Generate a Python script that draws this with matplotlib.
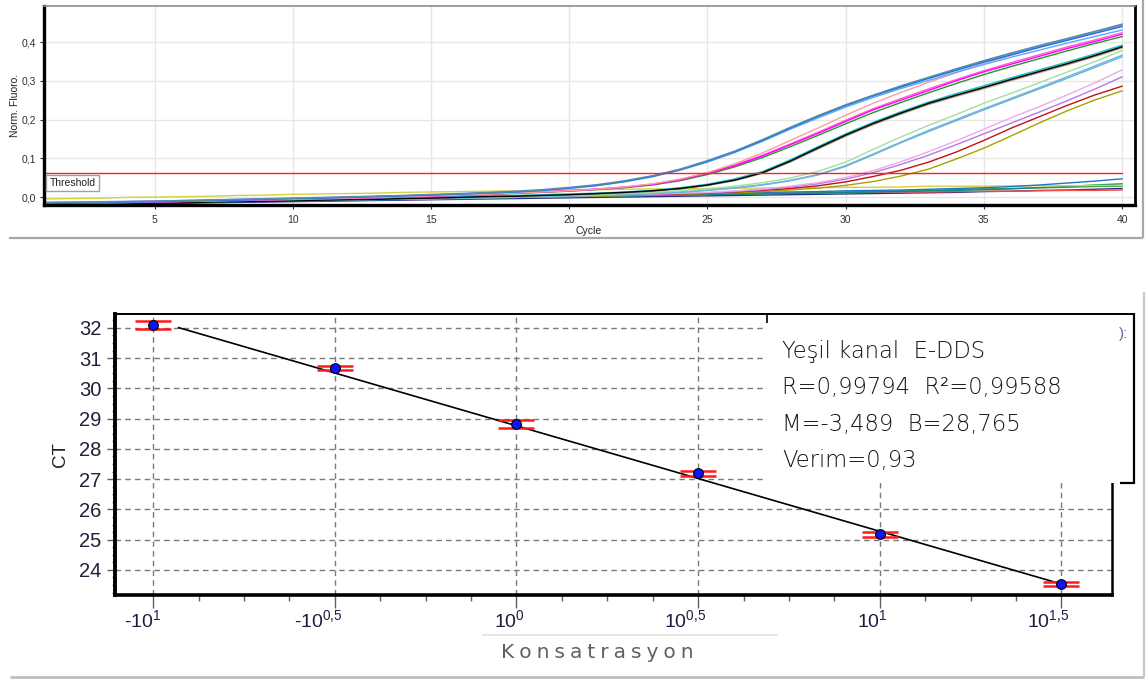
import matplotlib
matplotlib.use('Agg')
import matplotlib.pyplot as plt
from matplotlib.lines import Line2D
from matplotlib.patches import Rectangle
from matplotlib.transforms import ScaledTranslation

# ---- amplification curves (normalised fluorescence per cycle) ----
cycles = list(range(1, 41))

fl_a1 = [-0.015, -0.014, -0.013, -0.012, -0.011, -0.009, -0.008, -0.006, -0.005, -0.003,
         -0.002, 0.000, 0.002, 0.004, 0.006, 0.008, 0.011, 0.014, 0.018, 0.024,
         0.031, 0.041, 0.054, 0.071, 0.093, 0.118, 0.148, 0.180, 0.210, 0.238,
         0.263, 0.287, 0.309, 0.331, 0.352, 0.372, 0.391, 0.409, 0.427, 0.446]
fl_a2 = [-0.017, -0.016, -0.015, -0.013, -0.012, -0.011, -0.009, -0.008, -0.006, -0.004,
         -0.003, -0.001, 0.001, 0.003, 0.005, 0.008, 0.010, 0.013, 0.017, 0.023,
         0.030, 0.040, 0.053, 0.070, 0.092, 0.117, 0.146, 0.178, 0.208, 0.236,
         0.261, 0.284, 0.306, 0.327, 0.348, 0.367, 0.386, 0.404, 0.422, 0.440]
fl_a3 = [-0.016, -0.015, -0.014, -0.013, -0.011, -0.010, -0.009, -0.007, -0.006, -0.004,
         -0.003, -0.001, 0.001, 0.003, 0.005, 0.007, 0.010, 0.013, 0.017, 0.022,
         0.029, 0.039, 0.052, 0.069, 0.090, 0.115, 0.144, 0.175, 0.204, 0.232,
         0.257, 0.280, 0.301, 0.322, 0.342, 0.361, 0.379, 0.397, 0.414, 0.431]
fl_a4 = [-0.014, -0.013, -0.012, -0.011, -0.010, -0.009, -0.007, -0.006, -0.004, -0.003,
         -0.001, 0.001, 0.002, 0.004, 0.007, 0.009, 0.012, 0.015, 0.019, 0.025,
         0.032, 0.042, 0.055, 0.072, 0.094, 0.119, 0.148, 0.179, 0.209, 0.237,
         0.262, 0.285, 0.307, 0.329, 0.350, 0.370, 0.389, 0.407, 0.425, 0.443]

fl_b1 = [-0.017, -0.016, -0.015, -0.014, -0.012, -0.011, -0.010, -0.008, -0.007, -0.006,
         -0.004, -0.003, -0.001, 0.001, 0.003, 0.005, 0.007, 0.010, 0.013, 0.016,
         0.020, 0.026, 0.034, 0.046, 0.063, 0.086, 0.114, 0.146, 0.178, 0.211,
         0.242, 0.270, 0.296, 0.321, 0.344, 0.366, 0.387, 0.408, 0.427, 0.446]
fl_b2 = [-0.018, -0.017, -0.016, -0.014, -0.013, -0.012, -0.010, -0.009, -0.008, -0.006,
         -0.005, -0.003, -0.002, 0.000, 0.002, 0.004, 0.007, 0.010, 0.013, 0.016,
         0.020, 0.025, 0.032, 0.044, 0.061, 0.081, 0.106, 0.135, 0.164, 0.195,
         0.225, 0.250, 0.275, 0.300, 0.323, 0.343, 0.363, 0.383, 0.401, 0.420]
fl_b3 = [-0.016, -0.015, -0.014, -0.013, -0.012, -0.010, -0.009, -0.008, -0.006, -0.005,
         -0.003, -0.002, 0.000, 0.001, 0.003, 0.005, 0.008, 0.011, 0.014, 0.017,
         0.021, 0.026, 0.033, 0.045, 0.062, 0.083, 0.108, 0.137, 0.167, 0.198,
         0.228, 0.254, 0.279, 0.303, 0.326, 0.347, 0.367, 0.387, 0.405, 0.424]
fl_b4 = [-0.019, -0.018, -0.016, -0.015, -0.014, -0.012, -0.011, -0.010, -0.008, -0.007,
         -0.005, -0.004, -0.002, 0.000, 0.002, 0.004, 0.006, 0.009, 0.012, 0.015,
         0.019, 0.024, 0.031, 0.042, 0.058, 0.078, 0.102, 0.130, 0.159, 0.189,
         0.218, 0.244, 0.269, 0.293, 0.316, 0.337, 0.357, 0.377, 0.396, 0.414]

fl_c1 = [-0.020, -0.019, -0.018, -0.017, -0.016, -0.015, -0.013, -0.012, -0.011, -0.010,
         -0.008, -0.007, -0.006, -0.004, -0.003, -0.001, 0.001, 0.002, 0.004, 0.006,
         0.009, 0.012, 0.016, 0.022, 0.031, 0.044, 0.063, 0.093, 0.127, 0.160,
         0.190, 0.217, 0.242, 0.263, 0.283, 0.304, 0.324, 0.344, 0.365, 0.388]
fl_c2 = [-0.018, -0.017, -0.016, -0.015, -0.014, -0.013, -0.012, -0.010, -0.009, -0.008,
         -0.007, -0.005, -0.004, -0.003, -0.001, 0.000, 0.002, 0.003, 0.005, 0.007,
         0.009, 0.012, 0.016, 0.021, 0.030, 0.042, 0.061, 0.090, 0.123, 0.156,
         0.186, 0.213, 0.238, 0.259, 0.279, 0.300, 0.320, 0.340, 0.361, 0.384]
fl_c3 = [-0.017, -0.016, -0.015, -0.014, -0.013, -0.012, -0.011, -0.009, -0.008, -0.007,
         -0.006, -0.004, -0.003, -0.002, 0.000, 0.001, 0.003, 0.004, 0.006, 0.008,
         0.010, 0.013, 0.017, 0.024, 0.033, 0.047, 0.066, 0.096, 0.130, 0.163,
         0.193, 0.220, 0.245, 0.267, 0.287, 0.308, 0.328, 0.348, 0.369, 0.392]
fl_c4 = [-0.019, -0.018, -0.017, -0.016, -0.015, -0.014, -0.012, -0.011, -0.010, -0.009,
         -0.008, -0.006, -0.005, -0.004, -0.002, -0.001, 0.001, 0.002, 0.004, 0.006,
         0.008, 0.011, 0.015, 0.021, 0.030, 0.043, 0.062, 0.091, 0.125, 0.158,
         0.188, 0.215, 0.240, 0.261, 0.281, 0.302, 0.322, 0.342, 0.363, 0.386]

fl_d1 = [-0.016, -0.015, -0.014, -0.013, -0.012, -0.011, -0.010, -0.009, -0.008, -0.007,
         -0.006, -0.005, -0.004, -0.003, -0.002, -0.001, 0.000, 0.001, 0.003, 0.004,
         0.006, 0.009, 0.012, 0.016, 0.021, 0.028, 0.037, 0.049, 0.066, 0.090,
         0.123, 0.155, 0.185, 0.213, 0.242, 0.268, 0.295, 0.322, 0.349, 0.378]
fl_d2 = [-0.018, -0.017, -0.016, -0.015, -0.014, -0.013, -0.012, -0.011, -0.010, -0.009,
         -0.008, -0.007, -0.006, -0.005, -0.004, -0.003, -0.002, 0.000, 0.001, 0.003,
         0.005, 0.007, 0.010, 0.013, 0.018, 0.024, 0.032, 0.043, 0.058, 0.081,
         0.111, 0.142, 0.172, 0.200, 0.228, 0.255, 0.282, 0.310, 0.338, 0.366]
fl_d3 = [-0.019, -0.018, -0.017, -0.016, -0.015, -0.014, -0.013, -0.012, -0.011, -0.010,
         -0.009, -0.008, -0.007, -0.006, -0.005, -0.004, -0.002, -0.001, 0.001, 0.002,
         0.004, 0.006, 0.009, 0.012, 0.017, 0.023, 0.031, 0.042, 0.057, 0.079,
         0.109, 0.140, 0.169, 0.197, 0.225, 0.252, 0.279, 0.306, 0.334, 0.362]

fl_e1 = [-0.015, -0.014, -0.013, -0.012, -0.011, -0.010, -0.009, -0.008, -0.007, -0.006,
         -0.005, -0.004, -0.003, -0.002, -0.001, 0.000, 0.001, 0.002, 0.004, 0.005,
         0.006, 0.007, 0.008, 0.010, 0.012, 0.016, 0.021, 0.028, 0.037, 0.050,
         0.068, 0.091, 0.117, 0.145, 0.175, 0.205, 0.233, 0.263, 0.294, 0.328]
fl_e2 = [-0.017, -0.016, -0.015, -0.014, -0.013, -0.012, -0.011, -0.010, -0.009, -0.008,
         -0.007, -0.006, -0.005, -0.004, -0.003, -0.002, -0.001, 0.000, 0.002, 0.003,
         0.004, 0.005, 0.007, 0.009, 0.011, 0.014, 0.019, 0.026, 0.034, 0.046,
         0.063, 0.084, 0.108, 0.135, 0.163, 0.191, 0.219, 0.248, 0.278, 0.310]

fl_f1 = [-0.016, -0.015, -0.014, -0.013, -0.012, -0.011, -0.010, -0.009, -0.008, -0.007,
         -0.006, -0.005, -0.004, -0.003, -0.002, -0.001, 0.000, 0.002, 0.003, 0.004,
         0.005, 0.006, 0.007, 0.008, 0.010, 0.013, 0.017, 0.022, 0.029, 0.039,
         0.053, 0.069, 0.090, 0.116, 0.146, 0.178, 0.207, 0.236, 0.263, 0.286]
fl_f2 = [-0.018, -0.017, -0.016, -0.015, -0.014, -0.013, -0.012, -0.011, -0.010, -0.009,
         -0.008, -0.007, -0.006, -0.005, -0.004, -0.003, -0.002, -0.001, 0.000, 0.001,
         0.002, 0.004, 0.005, 0.007, 0.009, 0.011, 0.014, 0.018, 0.023, 0.030,
         0.040, 0.054, 0.072, 0.098, 0.126, 0.158, 0.191, 0.222, 0.250, 0.274]

# negative / no-amplification wells
fl_g1 = [-0.019, -0.018, -0.017, -0.016, -0.015, -0.014, -0.013, -0.012, -0.011, -0.010,
         -0.009, -0.008, -0.006, -0.005, -0.004, -0.003, -0.002, -0.001, 0.001, 0.002,
         0.004, 0.005, 0.006, 0.008, 0.009, 0.010, 0.012, 0.013, 0.014, 0.016,
         0.017, 0.018, 0.020, 0.022, 0.024, 0.027, 0.031, 0.036, 0.041, 0.047]
fl_g2 = [-0.005, -0.004, -0.003, -0.001, 0.000, 0.001, 0.002, 0.004, 0.005, 0.007,
         0.008, 0.009, 0.010, 0.012, 0.013, 0.014, 0.015, 0.016, 0.017, 0.018,
         0.019, 0.020, 0.021, 0.021, 0.022, 0.023, 0.023, 0.024, 0.024, 0.025,
         0.025, 0.026, 0.028, 0.028, 0.028, 0.029, 0.029, 0.029, 0.030, 0.030]
fl_g3 = [-0.018, -0.017, -0.016, -0.015, -0.014, -0.013, -0.012, -0.011, -0.010, -0.009,
         -0.008, -0.007, -0.006, -0.005, -0.004, -0.003, -0.002, -0.001, 0.000, 0.001,
         0.002, 0.003, 0.004, 0.005, 0.006, 0.007, 0.008, 0.009, 0.010, 0.012,
         0.013, 0.014, 0.016, 0.017, 0.019, 0.021, 0.024, 0.027, 0.031, 0.034]
fl_g4 = [-0.017, -0.016, -0.015, -0.014, -0.013, -0.012, -0.011, -0.010, -0.009, -0.008,
         -0.007, -0.006, -0.005, -0.004, -0.003, -0.002, -0.001, 0.000, 0.001, 0.002,
         0.003, 0.004, 0.005, 0.006, 0.007, 0.008, 0.009, 0.010, 0.011, 0.013,
         0.014, 0.016, 0.017, 0.019, 0.021, 0.022, 0.024, 0.025, 0.027, 0.028]
fl_g5 = [-0.021, -0.020, -0.019, -0.018, -0.017, -0.016, -0.015, -0.014, -0.013, -0.012,
         -0.011, -0.010, -0.009, -0.008, -0.007, -0.006, -0.005, -0.004, -0.003, -0.002,
         -0.001, 0.000, 0.001, 0.002, 0.003, 0.004, 0.005, 0.006, 0.007, 0.008,
         0.009, 0.010, 0.011, 0.012, 0.014, 0.015, 0.017, 0.018, 0.020, 0.022]
fl_g6 = [-0.014, -0.013, -0.013, -0.012, -0.011, -0.010, -0.009, -0.008, -0.008, -0.007,
         -0.006, -0.005, -0.004, -0.004, -0.003, -0.002, -0.001, 0.000, 0.001, 0.002,
         0.003, 0.004, 0.005, 0.006, 0.007, 0.008, 0.009, 0.010, 0.010, 0.011,
         0.012, 0.013, 0.013, 0.014, 0.015, 0.015, 0.016, 0.017, 0.017, 0.018]

threshold = 0.062

# ---- standard curve ----
log_conc = [-1.0, -0.5, 0.0, 0.5, 1.0, 1.5]
ct_mean = [32.10, 30.67, 28.82, 27.20, 25.18, 23.53]
ct_err = [0.13, 0.07, 0.13, 0.08, 0.08, 0.07]
conc_labels = [r'-$10^{1}$', r'-$10^{0{,}5}$', r'$10^{0}$',
               r'$10^{0{,}5}$', r'$10^{1}$', r'$10^{1{,}5}$']
ct_ticks = [24, 25, 26, 27, 28, 29, 30, 31, 32]
slope = -3.489
intercept = 28.765
fit_range = [-0.93, 1.5]
fit_lines = ['Yeşil kanal  E-DDS',
             'R=0,99794  R²=0,99588',
             'M=-3,489  B=28,765',
             'Verim=0,93']

plt.rcParams['font.family'] = ['Liberation Sans', 'DejaVu Sans']
plt.rcParams['mathtext.fontset'] = 'custom'
plt.rcParams['mathtext.rm'] = 'Liberation Sans'
plt.rcParams['mathtext.it'] = 'Liberation Sans'
plt.rcParams['mathtext.bf'] = 'Liberation Sans'

W, H = 1147, 679
fig = plt.figure(figsize=(W / 100, H / 100), dpi=100)


def fx(px):
    return px / W


def fy(py):
    return 1 - py / H


def fig_line(x0, y0, x1, y1, color, lw, z=6):
    fig.add_artist(Line2D([fx(x0), fx(x1)], [fy(y0), fy(y1)], color=color, lw=lw,
                          transform=fig.transFigure, zorder=z, solid_capstyle='butt'))


# ================= amplification plot =================
ax1 = fig.add_axes([fx(44), fy(205), fx(1135) - fx(44), fy(6) - fy(205)])
ax1.set_xlim(1, 40.47)
ax1.set_ylim(-0.0206, 0.493)

curves = [
    (fl_g5, '#2a2a8a'), (fl_g6, '#ff4a4a'), (fl_g4, '#3aa83a'), (fl_g3, '#108a80'),
    (fl_g2, '#d6d040'), (fl_g1, '#1a78c2'),
    (fl_f2, '#a3a300'), (fl_f1, '#c41010'),
    (fl_e2, '#b47ae8'), (fl_e1, '#eeaae6'),
    (fl_d3, '#5fb4d4'), (fl_d2, '#76b2e0'), (fl_d1, '#9ee09e'),
    (fl_c2, '#e6d2a0'), (fl_c4, '#7a7a7a'), (fl_c3, '#18c4c4'), (fl_c1, '#000000'),
    (fl_b4, '#23962b'), (fl_b3, '#ff5fd0'), (fl_b2, '#ff00ff'), (fl_b1, '#ff9c9c'),
    (fl_a4, '#8c8cf0'), (fl_a3, '#5aa8ff'), (fl_a2, '#1e6ee8'), (fl_a1, '#4f8fa0'),
]
for vals, col in curves:
    ax1.plot(cycles, vals, color=col, lw=1.0)

ax1.plot([cycles[0], cycles[-1]], [threshold, threshold], color='#ff2020', lw=1.0)
ax1.text(1.2, 0.037, 'Threshold', fontsize=7.5, color='#202020', va='center', ha='left',
         bbox=dict(boxstyle='square,pad=0.3', fc='white', ec='#a0a0a0', lw=1.0))

ax1.set_xticks([5, 10, 15, 20, 25, 30, 35, 40])
ax1.set_yticks([0.0, 0.1, 0.2, 0.3, 0.4])
ax1.set_yticklabels(['0,0', '0,1', '0,2', '0,3', '0,4'])
ax1.grid(True, color='#e6e6e6', lw=1.0)
ax1.set_axisbelow(True)
ax1.tick_params(labelsize=7.5, colors='#303030', length=3, pad=3)
ax1.tick_params(axis='x', pad=4)
for side, lw, col in [('left', 2.4, 'black'), ('bottom', 2.4, 'black'),
                      ('right', 2.0, 'black'), ('top', 1.2, '#8c8c8c')]:
    ax1.spines[side].set_linewidth(lw)
    ax1.spines[side].set_color(col)
fig.text(fx(589), fy(231), 'Cycle', fontsize=7.5, ha='center', va='center', color='#202020')
fig.text(fx(15), fy(105), 'Norm. Fluoro.', fontsize=7.5, ha='center', va='center',
         rotation=90, color='#202020')

# panel frame
fig_line(9, 238, 1143, 238, '#a8a8a8', 1.6)
fig_line(1143, 0, 1143, 238, '#a8a8a8', 1.6)

# ================= standard curve =================
ax2 = fig.add_axes([fx(115), fy(595), fx(1112) - fx(115), fy(314) - fy(595)])
ax2.set_xlim(-1.105, 1.639)
ax2.set_ylim(23.17, 32.46)

ax2.plot(fit_range, [intercept + slope * x for x in fit_range], color='black', lw=1.2, zorder=3)
ax2.errorbar(log_conc, ct_mean, yerr=ct_err, fmt='none', ecolor='#ff1a1a', elinewidth=1.5,
             capsize=13, capthick=1.8, zorder=4)
ax2.plot(log_conc, ct_mean, 'o', ms=7, mfc='#0a14ff', mec='black', mew=0.8, zorder=5)

ax2.set_xticks(log_conc)
ax2.set_xticklabels(conc_labels)
ax2.set_xticks([-0.875, -0.75, -0.625, -0.375, -0.25, -0.125, 0.125, 0.25, 0.375,
                0.625, 0.75, 0.875, 1.125, 1.25, 1.375], minor=True)
ax2.set_yticks(ct_ticks)
ax2.set_yticks([t + 0.25 * k for t in [23] + ct_ticks for k in (1, 2, 3)
                if 23.17 < t + 0.25 * k < 32.46], minor=True)
ax2.grid(True, which='major', color='#7a7a7a', lw=1.0, linestyle=(0, (4, 3)))
ax2.set_axisbelow(True)
ax2.tick_params(axis='x', which='major', length=9, width=1.0, color='#606060', pad=1,
                labelsize=14, labelcolor='#241a40')
ax2.tick_params(axis='x', which='minor', length=4, width=1.0, color='#606060')
ax2.tick_params(axis='y', which='major', length=6, width=1.0, color='#606060', pad=4,
                labelsize=14.5, labelcolor='#20203a')
ax2.tick_params(axis='y', which='minor', length=2.5, width=1.0, color='#707070')
shift = ScaledTranslation(8 / 100, 0, fig.dpi_scale_trans)
for lab in ax2.get_xticklabels():
    lab.set_horizontalalignment('right')
    lab.set_transform(lab.get_transform() + shift)
for side, lw in [('left', 2.8), ('bottom', 2.6), ('top', 1.4), ('right', 1.8)]:
    ax2.spines[side].set_linewidth(lw)
    ax2.spines[side].set_color('black')

fig.text(fx(60), fy(455), 'CT', fontsize=13.5, rotation=90, ha='center', va='center',
         color='#202020')

# equation box
fig.add_artist(Rectangle((fx(767), fy(483)), fx(1134) - fx(767), fy(314) - fy(483),
                         transform=fig.transFigure, fc='white', ec='none', zorder=5))
fig_line(767, 314, 1134, 314, 'black', 1.4)
fig_line(1134, 313, 1134, 484, 'black', 1.6)
fig_line(1120, 483, 1134, 483, 'black', 1.6)
fig_line(767, 314, 767, 323, 'black', 1.2)
for i, line in enumerate(fit_lines):
    fig.text(fx(782), fy(358 + 36.3 * i), line, fontsize=16.3, family=['DejaVu Sans'],
             weight='light', color='#141414', va='baseline', ha='left', zorder=7)
fig.text(fx(1119), fy(334), '):', fontsize=11, color='#7a5a9a', va='center', ha='left', zorder=7)

# axis title strip
fig_line(482, 635, 778, 635, '#e2e2e2', 1.2)
fig.text(fx(597), fy(653), '\u2005'.join('Konsatrasyon'), fontsize=14.5,
         family=['DejaVu Sans'], color='#606060', ha='center', va='center')

# panel frame
fig_line(10, 677, 1144, 677, '#c0c0c0', 2.0)
fig_line(1144, 292, 1144, 677, '#c8c8c8', 1.6)

fig.savefig('out.png', dpi=100)
